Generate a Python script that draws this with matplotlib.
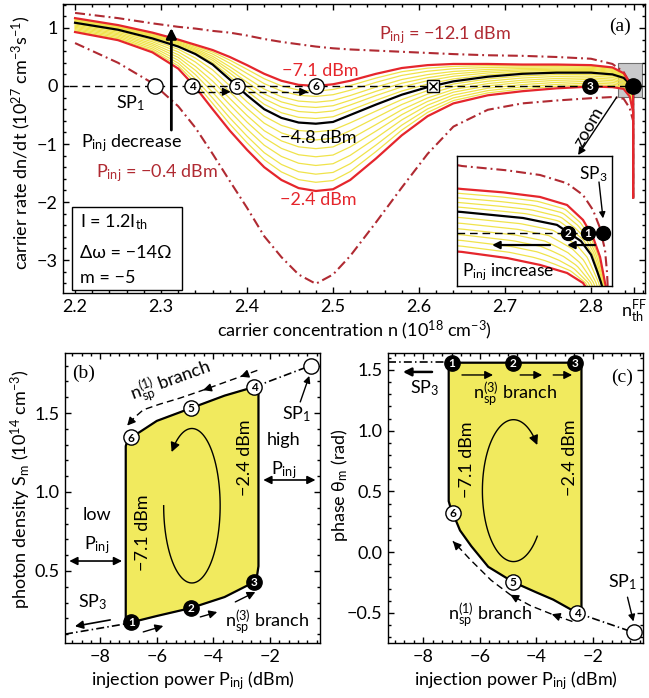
import numpy as np
import matplotlib
matplotlib.use("Agg")
import matplotlib.pyplot as plt
from matplotlib.patches import Rectangle
from matplotlib.ticker import MultipleLocator, FixedLocator

FONT = "Lato"
plt.rcParams["font.family"] = [FONT, "DejaVu Sans"]
plt.rcParams["mathtext.fontset"] = "custom"
plt.rcParams["mathtext.rm"] = FONT
plt.rcParams["mathtext.it"] = FONT
plt.rcParams["mathtext.bf"] = FONT + ":bold"
plt.rcParams["mathtext.fallback"] = "stixsans"
plt.rcParams["font.size"] = 13
plt.rcParams["axes.linewidth"] = 1.0

RED = "#e5262c"
DRED = "#b02a32"
YEL = "#f0e34a"
FILL = "#f1ea5e"

# ---------------- panel (a): carrier rate vs carrier concentration ----------------
n_grid = [2.20, 2.25, 2.29, 2.32, 2.34, 2.36, 2.38, 2.40, 2.42, 2.44, 2.46, 2.48, 2.50,
          2.52, 2.55, 2.58, 2.61, 2.64, 2.68, 2.72, 2.76, 2.80, 2.825, 2.838, 2.845, 2.849]
rate_m12p1 = [1.26, 1.17, 1.08, 1.02, 0.99, 0.95, 0.92, 0.87, 0.81, 0.76, 0.72, 0.68, 0.65,
              0.63, 0.61, 0.59, 0.57, 0.55, 0.53, 0.52, 0.50, 0.47, 0.38, 0.24, 0.06, -0.15]
rate_m7p1 = [1.17, 1.05, 0.92, 0.80, 0.71, 0.62, 0.50, 0.36, 0.21, 0.09, 0.02, 0.00, 0.03,
             0.09, 0.21, 0.31, 0.36, 0.38, 0.38, 0.37, 0.37, 0.36, 0.32, 0.22, 0.06, -0.15]
rate_m4p8 = [1.09, 0.97, 0.82, 0.68, 0.55, 0.37, 0.11, -0.16, -0.40, -0.55, -0.63, -0.65, -0.62,
             -0.50, -0.32, -0.15, -0.02, 0.08, 0.16, 0.21, 0.23, 0.23, 0.20, 0.14, 0.04, -0.15]
rate_m2p4 = [0.93, 0.79, 0.58, 0.30, -0.02, -0.40, -0.77, -1.10, -1.40, -1.62, -1.76, -1.81, -1.78,
             -1.62, -1.25, -0.85, -0.52, -0.30, -0.16, -0.09, -0.04, -0.01, -0.02, -0.05, -0.18, -0.45]
rate_m0p4 = [0.74, 0.40, 0.05, -0.35, -0.72, -1.17, -1.64, -2.10, -2.59, -2.95, -3.25, -3.41, -3.25,
             -2.93, -2.35, -1.75, -1.17, -0.70, -0.41, -0.30, -0.25, -0.21, -0.19, -0.22, -0.38, -0.60]
rate_drop = -1.92          # all curves fall vertically at n_th^FF
n_th = 2.849
# depth of the yellow curves at the minimum (n = 2.48), read between the red curves
yellow_dip = [-0.09, -0.18, -0.28, -0.37, -0.46, -0.56, -0.79, -0.93, -1.08, -1.22, -1.37, -1.52, -1.66]

# steady points on the dn/dt = 0 line
sp_open_n = {"SP1": 2.293}
pts_open_n = {"4": 2.336, "5": 2.388, "6": 2.480}
pt_cross_n = 2.616
pts_fill_n = {"3": 2.799}

# inset (axes fraction coordinates)
in_dd_x = [0.0, 0.032, 0.32, 0.535, 0.71, 0.813, 0.877, 0.92, 0.955, 0.968, 0.972]
in_dd_y = [0.93, 0.923, 0.89, 0.854, 0.79, 0.70, 0.585, 0.454, 0.277, 0.10, 0.0]
in_up_x = [0.0, 0.032, 0.30, 0.535, 0.71, 0.813, 0.877, 0.923, 0.955, 0.96]
in_up_y = [0.75, 0.746, 0.72, 0.685, 0.623, 0.508, 0.377, 0.223, 0.023, 0.0]
in_bk_x = [0.0, 0.032, 0.426, 0.645, 0.72, 0.80, 0.865, 0.905, 0.928, 0.935]
in_bk_y = [0.572, 0.569, 0.523, 0.47, 0.41, 0.345, 0.24, 0.11, 0.03, 0.0]
in_lo_x = [0.0, 0.032, 0.323, 0.535, 0.71, 0.813, 0.826]
in_lo_y = [0.265, 0.262, 0.215, 0.162, 0.10, 0.023, 0.0]
in_zero = 0.408

# ---------------- panels (b), (c): vs injection power ----------------
b_P = [-7.1, -6.9, -6.0, -4.8, -3.6, -2.55, -2.45, -2.4,
       -2.4, -2.45, -2.55, -3.6, -4.8, -6.0, -6.9, -7.05, -7.1]
b_S = [0.17, 0.175, 0.215, 0.265, 0.335, 0.43, 0.47, 0.53,
       1.63, 1.655, 1.665, 1.61, 1.53, 1.45, 1.345, 1.32, 1.29]
b_pts_P = [-6.9, -4.8, -2.55, -2.55, -4.8, -6.9]
b_pts_S = [0.175, 0.265, 0.43, 1.665, 1.53, 1.345]
b_sp1 = (-0.55, 1.80)
b_dash_P = [-2.44, -3.04, -4.36, -5.17, -5.88, -6.48, -6.8, -7.05]
b_dash_S = [1.77, 1.73, 1.645, 1.595, 1.557, 1.52, 1.47, 1.42]

c_P = [-7.1, -2.4, -2.4, -2.45, -2.55, -3.4, -4.0, -4.82, -5.7, -6.3, -6.7, -6.95, -7.05, -7.1]
c_T = [1.56, 1.56, -0.47, -0.49, -0.50, -0.39, -0.33, -0.245, -0.12, 0.05, 0.18, 0.32, 0.38, 0.42]
c_pts_P = [-6.98, -4.82, -2.62, -2.55, -4.82, -6.95]
c_pts_T = [1.56, 1.56, 1.56, -0.50, -0.245, 0.32]
c_sp1 = (-0.55, -0.66)
c_dash_P = [-2.72, -3.45, -4.2, -4.92, -5.6, -6.34, -6.7, -6.95]
c_dash_T = [-0.57, -0.51, -0.44, -0.35, -0.23, -0.06, 0.03, 0.09]


def style(a):
    a.tick_params(which="both", direction="in", top=True, right=True, width=1.0)
    a.tick_params(which="major", length=4.5, labelsize=13, pad=4)
    a.tick_params(which="minor", length=2.5)


def marker(a, x, y, label, filled, ms=11, fs=8.5, z=8):
    a.plot(x, y, "o", ms=ms, mfc="k" if filled else "w", mec="k", mew=1.0, zorder=z)
    if label:
        a.annotate(label, (x, y), xytext=(0, -0.4), textcoords="offset points",
                   ha="center", va="center", fontsize=fs, fontweight="bold",
                   color="w" if filled else "k", zorder=z + 1)


def head(a, x0, y0, x1, y1, ms=12, lw=1.0, style_="-|>"):
    a.annotate("", xy=(x1, y1), xytext=(x0, y0),
               arrowprops=dict(arrowstyle=style_, color="k", lw=lw, shrinkA=0, shrinkB=0,
                               mutation_scale=ms), zorder=7)


def dashed_arrow(a, x0, y0, x1, y1):
    a.plot([x0, x1], [y0, y1], color="k", lw=1.0, ls=(0, (5, 3)), zorder=6)
    head(a, x1 - 0.15 * (x1 - x0), y1 - 0.15 * (y1 - y0), x1, y1)


fig = plt.figure(figsize=(6.49, 6.98), dpi=100)
ax = fig.add_axes([0.0971, 0.5802, 0.8967, 0.4141])
axb = fig.add_axes([0.1002, 0.0788, 0.3929, 0.4155])
axc = fig.add_axes([0.5978, 0.0788, 0.3930, 0.4155])

# ---- (a) ----
n_arr = np.array(n_grid + [n_th])
def with_drop(r):
    return np.array(r + [rate_drop])

up, bk, lo = with_drop(rate_m7p1), with_drop(rate_m4p8), with_drop(rate_m2p4)
i_min = n_grid.index(2.48)
for d in yellow_dip:
    if d > rate_m4p8[i_min]:
        w = (d - rate_m7p1[i_min]) / (rate_m4p8[i_min] - rate_m7p1[i_min])
        yy = up + w * (bk - up)
    else:
        w = (d - rate_m4p8[i_min]) / (rate_m2p4[i_min] - rate_m4p8[i_min])
        yy = bk + w * (lo - bk)
    ax.plot(n_arr, yy, color=YEL, lw=0.9, zorder=2)

dd = (0, (4.8, 1.9, 0.9, 1.9))
ax.plot(n_arr, with_drop(rate_m12p1), color=DRED, lw=1.5, ls=dd, zorder=3)
ax.plot(n_arr, with_drop(rate_m0p4), color=DRED, lw=1.5, ls=dd, zorder=3)
ax.plot(n_arr, bk, color="k", lw=1.6, zorder=4)
ax.plot(n_arr, up, color=RED, lw=1.6, zorder=4)
ax.plot(n_arr, lo, color=RED, lw=1.6, zorder=4)

ax.plot([2.15, n_th], [0, 0], color="k", lw=1.0, ls=(0, (5.5, 3.5)), zorder=5)
ax.add_patch(Rectangle((2.831, -0.19), 0.028, 0.59, facecolor="#c9c9cb", edgecolor="#707070",
                       lw=0.8, zorder=1))

for k, x in sp_open_n.items():
    marker(ax, x, 0, "", False)
for k, x in pts_open_n.items():
    marker(ax, x, 0, k, False)
ax.plot(pt_cross_n, 0, "s", ms=8, mfc="w", mec="k", mew=1.0, zorder=8)
ax.plot(pt_cross_n, 0, "x", ms=6, mec="k", mew=1.0, zorder=9)
for k, x in pts_fill_n.items():
    marker(ax, x, 0, k, True)
marker(ax, n_th, 0, "", True)

dashed_arrow(ax, 2.342, -0.1, 2.381, -0.1)
dashed_arrow(ax, 2.401, -0.1, 2.471, -0.1)
head(ax, 2.312, -0.76, 2.312, 1.0, ms=15, lw=2.0)

ax.text(2.264, -0.29, r"SP$_1$", ha="center", va="center")
ax.text(2.266, -0.98, r"P$_{\rm inj}$ decrease", ha="center", va="center")
ax.text(2.295, -1.50, r"P$_{\rm inj}$ = −0.4 dBm", ha="center", va="center", color=DRED)
ax.text(2.630, 0.88, r"P$_{\rm inj}$ = −12.1 dBm", ha="center", va="center", color=DRED)
ax.text(2.485, 0.25, "−7.1 dBm", ha="center", va="center", color=RED)
ax.text(2.483, -0.90, "−4.8 dBm", ha="center", va="center", color="k")
ax.text(2.483, -1.97, "−2.4 dBm", ha="center", va="center", color=RED)
ax.text(2.834, 1.02, "(a)", ha="center", va="center", family="Liberation Serif", fontsize=14)
ax.text(2.798, -0.71, "zoom", ha="center", va="center", rotation=60)
head(ax, 2.830, -0.19, 2.785, -1.19, ms=11)

ax.add_patch(Rectangle((0.0155, 0.0104), 0.189, 0.287, transform=ax.transAxes,
                       facecolor="w", edgecolor="k", lw=1.0, zorder=6))
for txt, fy in [(r"I = 1.2I$_{\rm th}$", 0.246), ("Δω = −14Ω", 0.138), ("m = −5", 0.052)]:
    ax.text(0.029, fy, txt, transform=ax.transAxes, ha="left", va="center", zorder=7)

ax.set_xlim(2.186, 2.8628)
ax.set_ylim(-3.569, 1.414)
ax.xaxis.set_major_locator(FixedLocator([2.2, 2.3, 2.4, 2.5, 2.6, 2.7, 2.8, 2.85]))
ax.set_xticklabels(["2.2", "2.3", "2.4", "2.5", "2.6", "2.7", "2.8", r"n$^{\rm FF}_{\rm th}$"])
ax.xaxis.set_minor_locator(MultipleLocator(0.02))
ax.yaxis.set_major_locator(MultipleLocator(1))
ax.yaxis.set_minor_locator(MultipleLocator(0.2))
style(ax)
ax.set_xlabel(r"carrier concentration n (10$^{18}$ cm$^{-3}$)", va="center")
ax.xaxis.set_label_coords(0.5, -0.128)
ax.set_ylabel(r"carrier rate dn/dt (10$^{27}$ cm$^{-3}$s$^{-1}$)", va="center")
ax.yaxis.set_label_coords(-0.072, 0.52)

# ---- inset ----
axi = fig.add_axes([0.7042, 0.5903, 0.2388, 0.1862], zorder=10)
axi.set_xlim(0, 1)
axi.set_ylim(0, 1)
axi.set_xticks([])
axi.set_yticks([])
for s in axi.spines.values():
    s.set_linewidth(1.0)

def resample(x, y, m=80):
    x, y = np.asarray(x, float), np.asarray(y, float)
    s = np.concatenate([[0], np.cumsum(np.hypot(np.diff(x), np.diff(y)))])
    t = np.linspace(0, s[-1], m)
    return np.interp(t, s, x), np.interp(t, s, y)

iux, iuy = resample(in_up_x, in_up_y)
ibx, iby = resample(in_bk_x, in_bk_y)
ilx, ily = resample(in_lo_x, in_lo_y)
for w in np.linspace(0, 1, 6)[1:-1]:
    axi.plot(iux + w * (ibx - iux), iuy + w * (iby - iuy), color=YEL, lw=0.9)
for w in np.linspace(0, 1, 8)[1:-1]:
    axi.plot(ibx + w * (ilx - ibx), iby + w * (ily - iby), color=YEL, lw=0.9)
axi.plot(in_dd_x, in_dd_y, color=DRED, lw=1.5, ls=dd)
axi.plot(in_bk_x, in_bk_y, color="k", lw=1.6)
axi.plot(in_up_x, in_up_y, color=RED, lw=1.6)
axi.plot(in_lo_x, in_lo_y, color=RED, lw=1.6)
axi.plot([0, 0.93], [in_zero, in_zero], color="k", lw=1.0, ls=(0, (5.5, 3.5)))
marker(axi, 0.716, in_zero, "2", True, ms=10)
marker(axi, 0.845, in_zero, "1", True, ms=10)
marker(axi, 0.942, in_zero, "", True, ms=10)
head(axi, 0.60, 0.315, 0.226, 0.315, ms=11, lw=1.6)
head(axi, 0.89, 0.315, 0.71, 0.315, ms=11, lw=1.6)
axi.text(0.33, 0.108, r"P$_{\rm inj}$ increase", ha="center", va="center", fontsize=12.5)
axi.text(0.877, 0.86, r"SP$_3$", ha="center", va="center", fontsize=12.5)
head(axi, 0.916, 0.80, 0.942, 0.52, ms=9)

# ---- (b) ----
axb.fill(b_P, b_S, color=FILL, zorder=1)
axb.plot(b_P + [b_P[0]], b_S + [b_S[0]], color="k", lw=1.6, zorder=3)
axb.plot([-9.25, -6.95], [0.10, 0.17], color="k", lw=1.2, ls=dd, zorder=3)
axb.plot([b_pts_P[3], b_sp1[0]], [b_pts_S[3], b_sp1[1]], color="k", lw=1.2, ls=dd, zorder=3)
for i, (x, y) in enumerate(zip(b_pts_P, b_pts_S)):
    marker(axb, x, y, str(i + 1), i < 3)
marker(axb, b_sp1[0], b_sp1[1], "", False)
axb.plot(b_dash_P, b_dash_S, color="k", lw=1.0, ls=(0, (5, 3)), zorder=4)
head(axb, -2.8, 1.746, -3.04, 1.73)
head(axb, -4.1, 1.66, -4.36, 1.645)
head(axb, -6.85, 1.46, -7.05, 1.42)
head(axb, -6.48, 0.114, -5.77, 0.152)
head(axb, -4.46, 0.209, -3.86, 0.24)
head(axb, -3.22, 0.304, -2.51, 0.367)
head(axb, -7.65, 0.19, -8.9, 0.15, lw=1.2)
head(axb, -9.1, 0.563, -7.23, 0.563, lw=1.2, style_="<|-|>")
head(axb, -2.23, 1.076, -0.38, 1.076, lw=1.2, style_="<|-|>")
head(axb, -0.92, 1.57, -0.6, 1.735, ms=10)
t = np.radians(np.linspace(180, 496, 120))
ex, ey = -4.757 + 1.0 * np.cos(t), 0.913 + 0.489 * np.sin(t)
axb.plot(ex[:-3], ey[:-3], color="k", lw=1.0, zorder=4)
head(axb, ex[-4], ey[-4], ex[-1], ey[-1], ms=14)
axb.text(-8.61, 1.753, "(b)", ha="center", va="center", family="Liberation Serif", fontsize=14)
axb.text(-5.5, 1.70, r"n$_{\rm sp}^{(1)}$ branch", ha="center", va="center", rotation=20)
axb.text(-2.09, 0.18, r"n$_{\rm sp}^{(3)}$ branch", ha="center", va="center")
axb.text(-8.26, 0.30, r"SP$_3$", ha="center", va="center")
axb.text(-1.06, 1.49, r"SP$_1$", ha="center", va="center")
axb.text(-1.52, 1.33, "high", ha="center", va="center")
axb.text(-1.52, 1.14, r"P$_{\rm inj}$", ha="center", va="center")
axb.text(-8.12, 0.855, "low", ha="center", va="center")
axb.text(-8.12, 0.665, r"P$_{\rm inj}$", ha="center", va="center")
axb.text(-6.48, 0.74, "−7.1 dBm", ha="center", va="center", rotation=90)
axb.text(-2.87, 1.215, "−2.4 dBm", ha="center", va="center", rotation=90)
axb.set_xlim(-9.25, -0.22)
axb.set_ylim(0.044, 1.88)
axb.xaxis.set_major_locator(MultipleLocator(2))
axb.xaxis.set_minor_locator(MultipleLocator(1 / 3))
axb.yaxis.set_major_locator(MultipleLocator(0.5))
axb.yaxis.set_minor_locator(MultipleLocator(0.1))
axb.yaxis.set_major_formatter(plt.FuncFormatter(lambda v, p: f"{v:.1f}"))
style(axb)
axb.set_xlabel(r"injection power P$_{\rm inj}$ (dBm)", va="center")
axb.xaxis.set_label_coords(0.5, -0.131)
axb.set_ylabel(r"photon density S$_{\rm m}$ (10$^{14}$ cm$^{-3}$)", va="center")
axb.yaxis.set_label_coords(-0.173, 0.53)

# ---- (c) ----
axc.fill(c_P, c_T, color=FILL, zorder=1)
axc.plot(c_P + [c_P[0]], c_T + [c_T[0]], color="k", lw=1.6, zorder=3)
axc.plot([-9.25, -6.98], [1.565, 1.565], color="k", lw=1.2, ls=dd, zorder=3)
axc.plot([c_pts_P[3], c_sp1[0]], [c_pts_T[3], c_sp1[1]], color="k", lw=1.2, ls=dd, zorder=3)
for i, (x, y) in enumerate(zip(c_pts_P, c_pts_T)):
    marker(axc, x, y, str(i + 1), i < 3)
marker(axc, c_sp1[0], c_sp1[1], "", False)
axc.plot(c_dash_P, c_dash_T, color="k", lw=1.0, ls=(0, (5, 3)), zorder=4)
head(axc, -3.2, -0.53, -3.45, -0.51)
head(axc, -4.65, -0.385, -4.92, -0.35)
head(axc, -6.85, 0.065, -6.95, 0.09)
head(axc, -6.63, 1.459, -5.53, 1.459)
head(axc, -4.57, 1.459, -3.79, 1.459)
head(axc, -3.40, 1.459, -2.73, 1.459)
head(axc, -7.69, 1.484, -8.72, 1.484, lw=1.8)
head(axc, -0.77, -0.37, -0.56, -0.57, ms=10)
t = np.radians(np.linspace(-40, -320, 120))
ex, ey = -4.807 + 1.1 * np.cos(t), 0.507 + 0.584 * np.sin(t)
axc.plot(ex[:-3], ey[:-3], color="k", lw=1.0, zorder=4)
head(axc, ex[-4], ey[-4], ex[-1], ey[-1], ms=14)
axc.text(-0.95, 1.44, "(c)", ha="center", va="center", family="Liberation Serif", fontsize=14)
axc.text(-4.75, 1.30, r"n$_{\rm sp}^{(3)}$ branch", ha="center", va="center")
axc.text(-5.63, -0.52, r"n$_{\rm sp}^{(1)}$ branch", ha="center", va="center")
axc.text(-7.94, 1.35, r"SP$_3$", ha="center", va="center")
axc.text(-0.95, -0.25, r"SP$_1$", ha="center", va="center")
axc.text(-6.45, 0.76, "−7.1 dBm", ha="center", va="center", rotation=90)
axc.text(-2.80, 0.78, "−2.4 dBm", ha="center", va="center", rotation=90)
axc.set_xlim(-9.25, -0.22)
axc.set_ylim(-0.747, 1.64)
axc.xaxis.set_major_locator(MultipleLocator(2))
axc.xaxis.set_minor_locator(MultipleLocator(1 / 3))
axc.yaxis.set_major_locator(MultipleLocator(0.5))
axc.yaxis.set_minor_locator(MultipleLocator(0.1))
axc.yaxis.set_major_formatter(plt.FuncFormatter(lambda v, p: f"{v:.1f}".replace("-", "−")))
style(axc)
axc.set_xlabel(r"injection power P$_{\rm inj}$ (dBm)", va="center")
axc.xaxis.set_label_coords(0.5, -0.131)
axc.set_ylabel(r"phase θ$_{\rm m}$ (rad)", va="center")
axc.yaxis.set_label_coords(-0.192, 0.545)

fig.savefig("out.png", dpi=100)
